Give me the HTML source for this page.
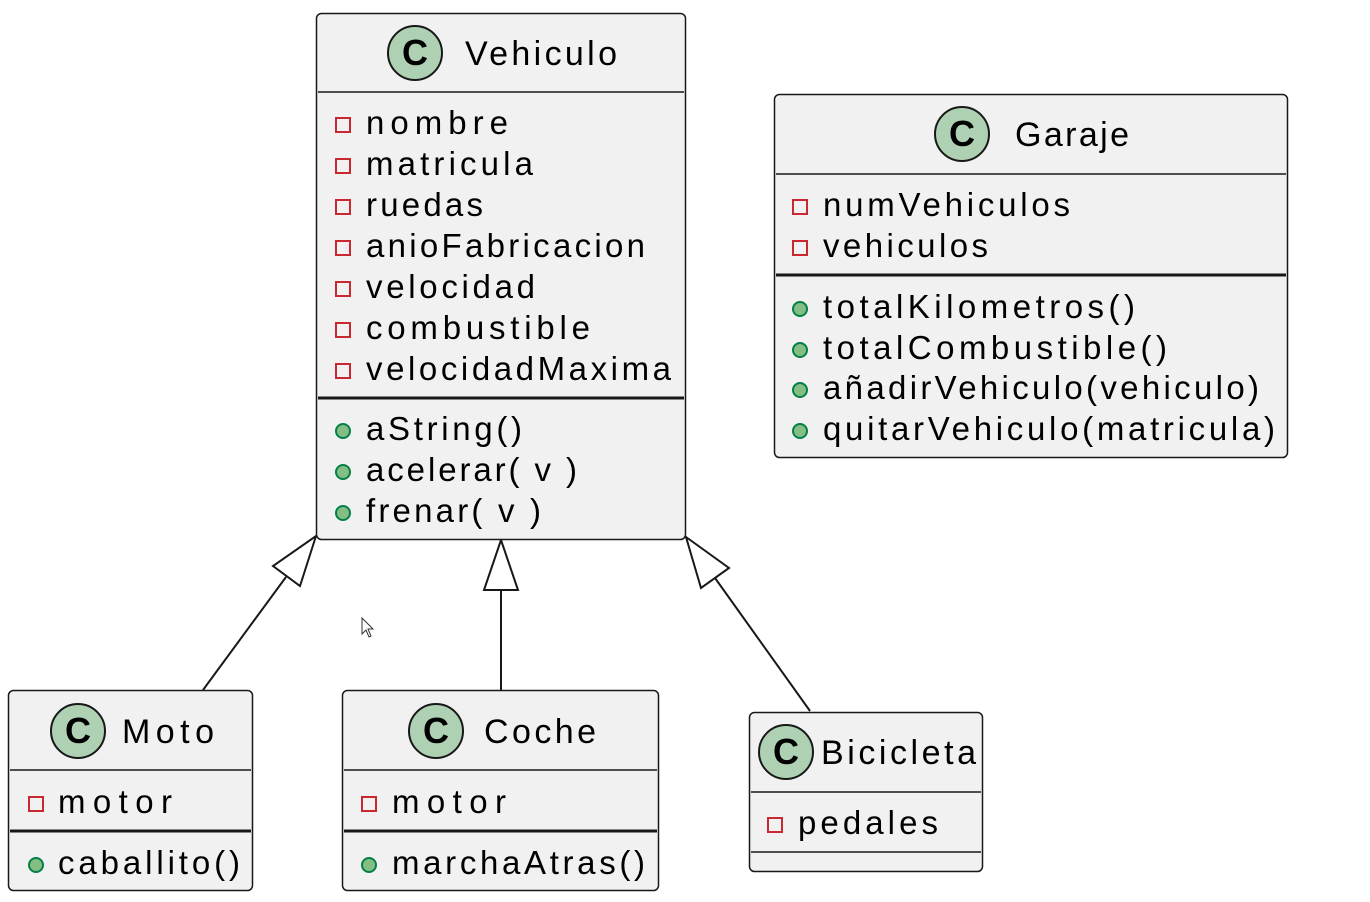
<!DOCTYPE html>
<html><head><meta charset="utf-8"><style>
html,body{margin:0;padding:0;background:#fff;}
svg{display:block;}
text{font-family:"Liberation Sans",sans-serif;font-size:33px;fill:#000;}
.t{font-size:34px;}
</style></head><body>
<svg width="1370" height="902" viewBox="0 0 1370 902" xmlns="http://www.w3.org/2000/svg">
<defs>
<g id="circ"><circle r="27" fill="#ADD1B2" stroke="#181818" stroke-width="2"/></g>
</defs>
<!-- edges -->
<g stroke="#181818" stroke-width="2" fill="none">
<line x1="203" y1="690" x2="286" y2="577"/>
<polygon points="316,536 300,586 273,566" fill="#fff"/>
<line x1="501" y1="690" x2="501" y2="590"/>
<polygon points="501,540 518,590 484,590" fill="#fff"/>
<line x1="810" y1="711" x2="715" y2="578"/>
<polygon points="686,537 729,568 701,588" fill="#fff"/>
</g>
<!-- cursor -->
<polygon points="362,618 362,634 366,630 369,637 371,636 368,629 373,629" fill="#fff" stroke="#333" stroke-width="1"/>

<!-- Vehiculo -->
<rect x="316.5" y="13.5" width="369" height="526" rx="5" fill="#F1F1F1" stroke="#181818" stroke-width="1.5"/>
<line x1="318" y1="92" x2="684" y2="92" stroke="#181818" stroke-width="1.5"/>
<line x1="318" y1="398" x2="684" y2="398" stroke="#181818" stroke-width="3"/>
<use href="#circ" x="415" y="53"/>
<text x="415" y="65" text-anchor="middle" style="font-size:36px;font-weight:bold">C</text>
<text class="t" x="465" y="65" textLength="152" lengthAdjust="spacing">Vehiculo</text>
<g fill="none" stroke="#C82930" stroke-width="2">
<rect x="336" y="118" width="14" height="14"/><rect x="336" y="159" width="14" height="14"/>
<rect x="336" y="200" width="14" height="14"/><rect x="336" y="241" width="14" height="14"/>
<rect x="336" y="282" width="14" height="14"/><rect x="336" y="323" width="14" height="14"/>
<rect x="336" y="364" width="14" height="14"/>
</g>
<text x="366" y="134" textLength="142" lengthAdjust="spacing">nombre</text>
<text x="366" y="175" textLength="167" lengthAdjust="spacing">matricula</text>
<text x="366" y="216" textLength="117" lengthAdjust="spacing">ruedas</text>
<text x="366" y="257" textLength="279" lengthAdjust="spacing">anioFabricacion</text>
<text x="366" y="298" textLength="169" lengthAdjust="spacing">velocidad</text>
<text x="366" y="339" textLength="224" lengthAdjust="spacing">combustible</text>
<text x="366" y="380" textLength="305" lengthAdjust="spacing">velocidadMaxima</text>
<g fill="#84BE84" stroke="#038048" stroke-width="2">
<circle cx="343" cy="431" r="7"/><circle cx="343" cy="472" r="7"/><circle cx="343" cy="513" r="7"/>
</g>
<text x="366" y="440" textLength="156" lengthAdjust="spacing">aString()</text>
<text x="366" y="481" textLength="211" lengthAdjust="spacing">acelerar( v )</text>
<text x="366" y="522" textLength="175" lengthAdjust="spacing">frenar( v )</text>

<!-- Garaje -->
<rect x="774.5" y="94.5" width="513" height="363" rx="5" fill="#F1F1F1" stroke="#181818" stroke-width="1.5"/>
<line x1="776" y1="174" x2="1286" y2="174" stroke="#181818" stroke-width="1.5"/>
<line x1="776" y1="275" x2="1286" y2="275" stroke="#181818" stroke-width="3"/>
<use href="#circ" x="962" y="134"/>
<text x="962" y="146" text-anchor="middle" style="font-size:36px;font-weight:bold">C</text>
<text class="t" x="1015" y="146" textLength="114" lengthAdjust="spacing">Garaje</text>
<g fill="none" stroke="#C82930" stroke-width="2">
<rect x="793" y="200" width="14" height="14"/><rect x="793" y="241" width="14" height="14"/>
</g>
<text x="823" y="216" textLength="247" lengthAdjust="spacing">numVehiculos</text>
<text x="823" y="257" textLength="165" lengthAdjust="spacing">vehiculos</text>
<g fill="#84BE84" stroke="#038048" stroke-width="2">
<circle cx="800" cy="309" r="7"/><circle cx="800" cy="350" r="7"/><circle cx="800" cy="390" r="7"/><circle cx="800" cy="431" r="7"/>
</g>
<text x="823" y="318" textLength="312" lengthAdjust="spacing">totalKilometros()</text>
<text x="823" y="359" textLength="344" lengthAdjust="spacing">totalCombustible()</text>
<text x="823" y="399" textLength="436" lengthAdjust="spacing">añadirVehiculo(vehiculo)</text>
<text x="823" y="440" textLength="452" lengthAdjust="spacing">quitarVehiculo(matricula)</text>

<!-- Moto -->
<rect x="8.5" y="690.5" width="244" height="200" rx="5" fill="#F1F1F1" stroke="#181818" stroke-width="1.5"/>
<line x1="10" y1="770" x2="251" y2="770" stroke="#181818" stroke-width="1.5"/>
<line x1="10" y1="831" x2="251" y2="831" stroke="#181818" stroke-width="3"/>
<use href="#circ" x="78" y="731"/>
<text x="78" y="743" text-anchor="middle" style="font-size:36px;font-weight:bold">C</text>
<text class="t" x="122" y="743" textLength="92" lengthAdjust="spacing">Moto</text>
<rect x="29" y="797" width="14" height="14" fill="none" stroke="#C82930" stroke-width="2"/>
<text x="58" y="813" textLength="114" lengthAdjust="spacing">motor</text>
<circle cx="36" cy="865" r="7" fill="#84BE84" stroke="#038048" stroke-width="2"/>
<text x="58" y="874" textLength="182" lengthAdjust="spacing">caballito()</text>

<!-- Coche -->
<rect x="342.5" y="690.5" width="316" height="200" rx="5" fill="#F1F1F1" stroke="#181818" stroke-width="1.5"/>
<line x1="344" y1="770" x2="657" y2="770" stroke="#181818" stroke-width="1.5"/>
<line x1="344" y1="831" x2="657" y2="831" stroke="#181818" stroke-width="3"/>
<use href="#circ" x="436" y="731"/>
<text x="436" y="743" text-anchor="middle" style="font-size:36px;font-weight:bold">C</text>
<text class="t" x="484" y="743" textLength="112" lengthAdjust="spacing">Coche</text>
<rect x="362" y="797" width="14" height="14" fill="none" stroke="#C82930" stroke-width="2"/>
<text x="392" y="813" textLength="114" lengthAdjust="spacing">motor</text>
<circle cx="369" cy="865" r="7" fill="#84BE84" stroke="#038048" stroke-width="2"/>
<text x="392" y="874" textLength="253" lengthAdjust="spacing">marchaAtras()</text>

<!-- Bicicleta -->
<rect x="749.5" y="712.5" width="233" height="159" rx="5" fill="#F1F1F1" stroke="#181818" stroke-width="1.5"/>
<line x1="751" y1="792" x2="981" y2="792" stroke="#181818" stroke-width="1.5"/>
<line x1="751" y1="852" x2="981" y2="852" stroke="#181818" stroke-width="1.5"/>
<use href="#circ" x="786" y="752"/>
<text x="786" y="764" text-anchor="middle" style="font-size:36px;font-weight:bold">C</text>
<text class="t" x="821" y="764" textLength="155" lengthAdjust="spacing">Bicicleta</text>
<rect x="768" y="818" width="14" height="14" fill="none" stroke="#C82930" stroke-width="2"/>
<text x="798" y="834" textLength="140" lengthAdjust="spacing">pedales</text>
</svg>
</body></html>
